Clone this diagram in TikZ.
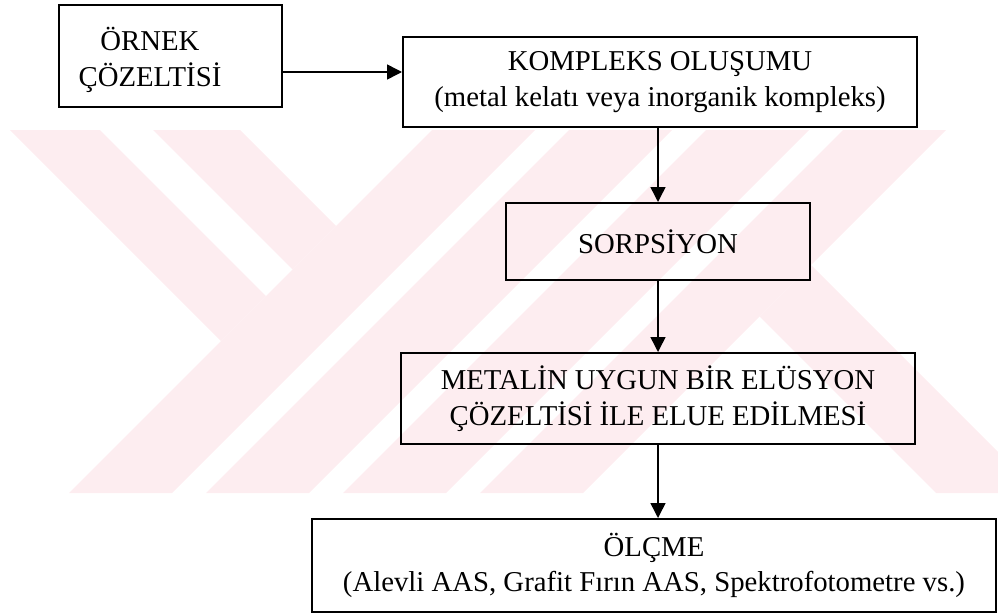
\documentclass[tikz,border=0pt]{standalone}
\usepackage{fontspec}
\setmainfont{Liberation Serif}
\usetikzlibrary{arrows.meta}

\definecolor{markpink}{RGB}{253,237,240}

\tikzset{
  stage/.style={draw, line width=2pt, align=center, inner sep=0pt},
  flow/.style={->, line width=1.5pt},
}

\begin{document}
\begin{tikzpicture}[x=1pt, y=-1pt, >={Triangle[length=15pt,width=15pt]},
                    font=\fontsize{28.75}{35.5}\selectfont]
  \useasboundingbox (0,0) rectangle (998,613);

  % The watermark
  \begin{scope}
    \clip (8,130) rectangle (998,493);
    \fill[markpink] (10,130) -- (100,130) -- (266,296) -- (221,341) -- cycle;
    \fill[markpink] (153,130) -- (240,130) -- (336,226) -- (292.5,269.5) -- cycle;
    \foreach \u in {562,699,836,973}
      \fill[markpink] ({\u-130},130) -- ({\u-27},130) -- ({\u-390},493) -- ({\u-493},493) -- cycle;
    \fill[markpink] (759.5,316.5) -- (811,265) -- (1039,493) -- (936,493) -- cycle;
  \end{scope}

  % The stages
  \node[stage, minimum width=223pt, minimum height=102pt] (ornek) at (170.5,56) {};
  \node[align=center] (ornektext) at (150,60) {ÖRNEK\\ÇÖZELTİSİ};
  \node[stage, minimum width=514pt, minimum height=90pt] (kompleks) at (660,82)
    {KOMPLEKS OLUŞUMU\\(metal kelatı veya inorganik kompleks)};
  \node[stage, minimum width=304pt, minimum height=77pt] (sorpsiyon) at (658,241.5)
    {SORPSİYON};
  \node[stage, minimum width=514pt, minimum height=91pt] (elue) at (658,398.5)
    {METALİN UYGUN BİR ELÜSYON\\ÇÖZELTİSİ İLE ELUE EDİLMESİ};
  \node[stage, minimum width=684pt, minimum height=93pt] (olcme) at (654,565.5)
    {ÖLÇME\\(Alevli AAS, Grafit Fırın AAS, Spektrofotometre vs.)};

  % Connections
  \draw[flow] ([yshift=-16pt]ornek.east) -- ([yshift=-16pt]ornek.east -| kompleks.west);
  \draw[flow] (kompleks.south -| sorpsiyon.north) -- (sorpsiyon.north);
  \draw[flow] (sorpsiyon) -- (elue);
  \draw[flow] (elue.south) -- (elue.south |- olcme.north);
\end{tikzpicture}
\end{document}
